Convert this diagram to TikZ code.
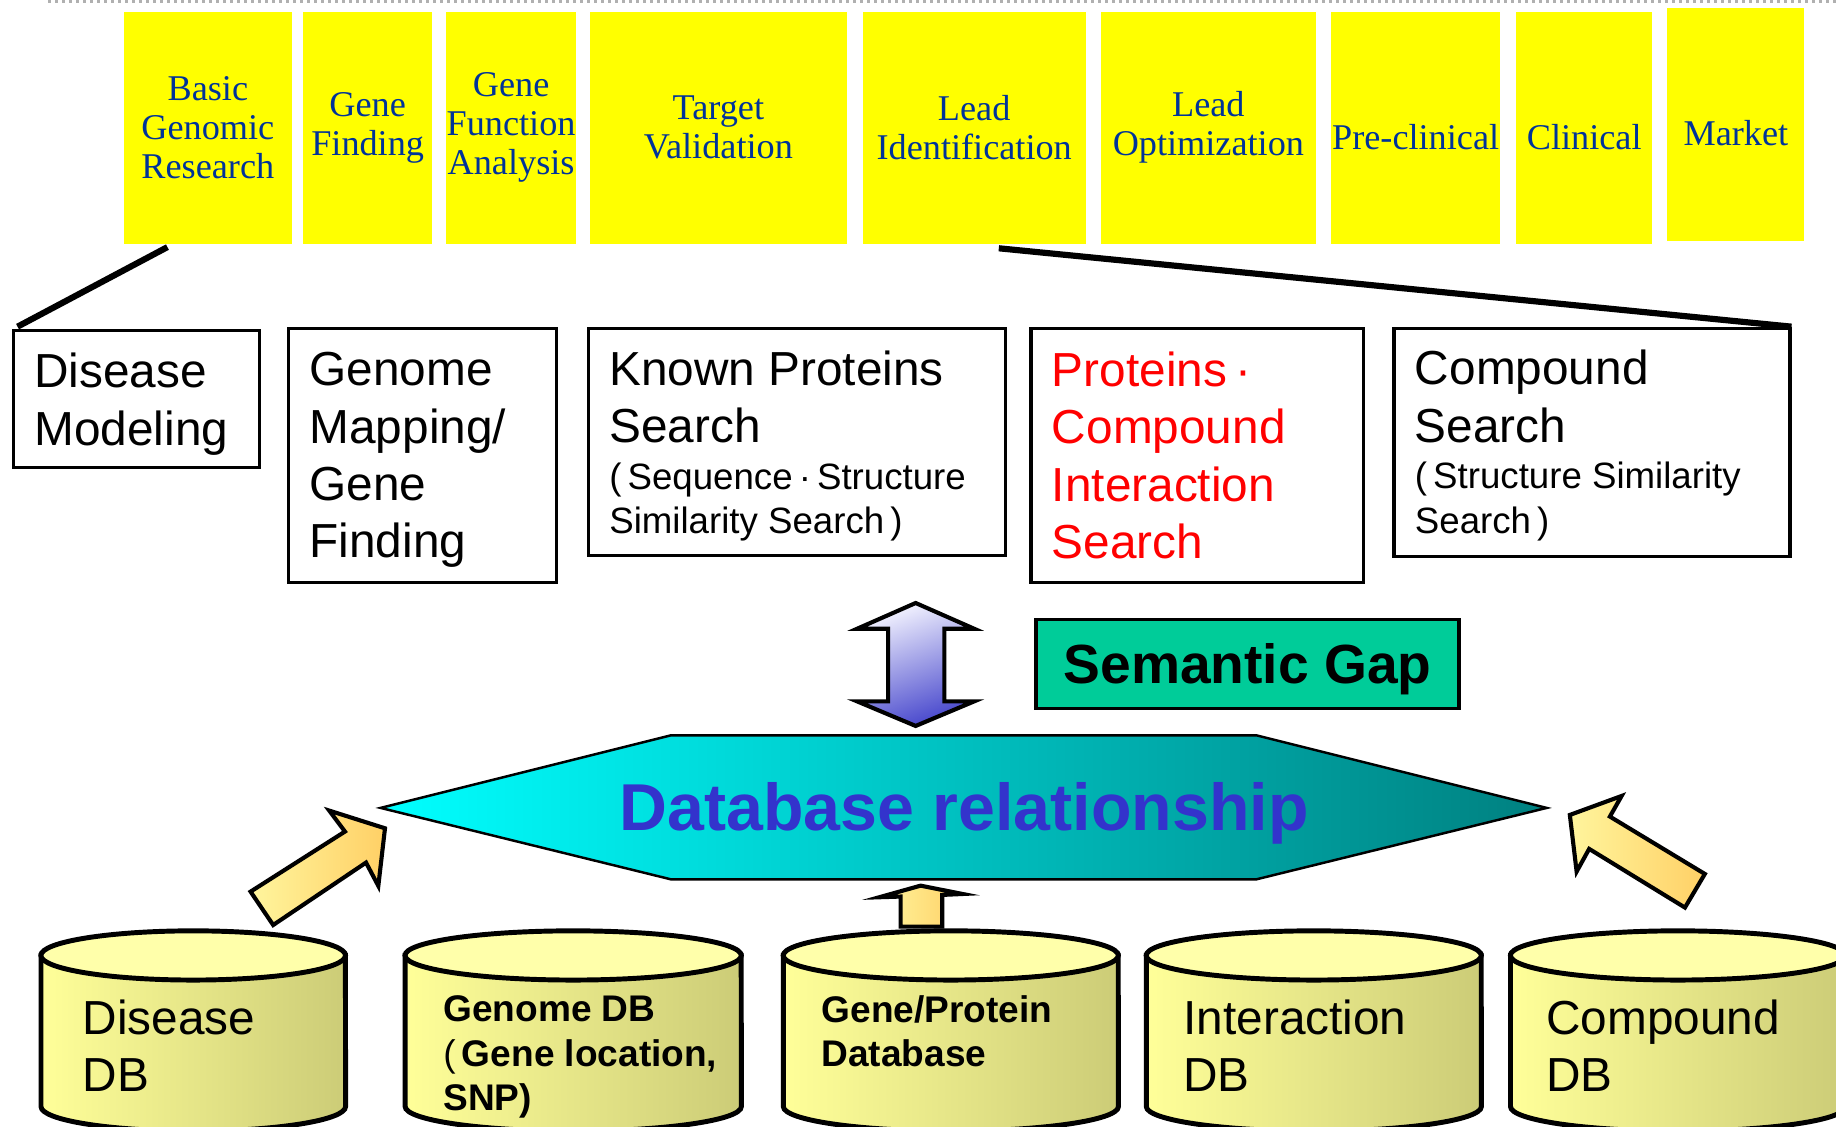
\documentclass[tikz,border=0pt]{standalone}
\usepackage{fontspec}
\setmainfont{Liberation Sans}
\newfontfamily\phasefont{Liberation Serif}
\usetikzlibrary{positioning, calc}
\definecolor{PhaseYellow}{HTML}{FFFF00}
\definecolor{PhaseBlue}{HTML}{003399}
\definecolor{GapGreen}{HTML}{00CC99}
\definecolor{RelBlue}{HTML}{3333CC}
\definecolor{HexCyan}{HTML}{00FFFF}
\definecolor{HexMid}{HTML}{00DEDE}
\definecolor{HexTeal}{HTML}{008080}
\definecolor{DbLight}{HTML}{FFFF99}
\definecolor{DbDark}{HTML}{CCCC77}
\definecolor{DbTop}{HTML}{FFFFAA}
\definecolor{ArrLight}{HTML}{FFF59D}
\definecolor{ArrDark}{HTML}{FFD066}
\definecolor{GapLilac}{HTML}{F4F4FF}
\definecolor{GapViolet}{HTML}{4646CC}
\definecolor{RuleGray}{HTML}{B0B0B0}

\newcommand\bigtxt{\fontsize{11.6}{13.9}\selectfont}
\newcommand\smalltxt{\fontsize{8.9}{10.8}\selectfont}
\newcommand\dbbold{\fontsize{9}{10.7}\selectfont\bfseries}

\begin{document}
\begin{tikzpicture}[
  x=0.01cm, y=-0.01cm,
  phase/.style={rectangle, fill=PhaseYellow, minimum height=1.98cm, inner sep=0pt, outer sep=0pt,
    align=center, text=PhaseBlue, font=\phasefont\fontsize{8.8}{9.4}\selectfont},
  oneline/.style={text height=0.37cm, text depth=0pt},
  task/.style={rectangle, draw, line width=0.8pt, anchor=north west, align=flush left,
    inner xsep=0.18cm, inner ysep=0pt, font=\bigtxt},
  zoomline/.style={line width=1.5pt, black},
  blockarrow/.style={draw, line width=1pt, line join=miter, left color=ArrLight, right color=ArrDark},
  gaparrow/.style={draw, line width=1pt, top color=GapLilac, bottom color=GapViolet, shading angle=20},
  hexa/.style={draw, line width=0.6pt, left color=HexCyan, middle color=HexMid, right color=HexTeal},
  dbbody/.style={draw, line width=1.2pt, left color=DbLight, right color=DbDark},
  dbtop/.style={draw, line width=1.2pt, fill=DbTop},
  dbtext/.style={anchor=north west, inner sep=0pt, align=left, font=\bigtxt},
  gapbox/.style={rectangle, draw, line width=0.9pt, fill=GapGreen, minimum width=3.61cm,
    minimum height=0.76cm, text depth=0pt, font=\fontsize{13.4}{16}\selectfont\bfseries}
]
  \useasboundingbox (0,0) rectangle (1568,962);
  \draw[RuleGray, line width=0.7pt, densely dotted] (41,1) -- (1568,1);

  % drug discovery phases
  \node[phase, minimum width=1.43cm] (basic) at (177.5,109) {Basic\\Genomic\\Research};
  \node[phase, minimum width=1.10cm] (genefind) at (314,109) {Gene\\Finding};
  \node[phase, minimum width=1.11cm] (genefunc) at (436.5,109) {Gene\\Function\\Analysis};
  \node[phase, minimum width=2.19cm] (target) at (613.5,109) {Target\\Validation};
  \node[phase, minimum width=1.90cm] (leadid) at (832,109) {Lead\\Identification};
  \node[phase, minimum width=1.84cm] (leadopt) at (1032,109) {Lead\\Optimization};
  \node[phase, oneline, minimum width=1.44cm] (preclin) at (1209,109) {Pre-clinical};
  \node[phase, oneline, minimum width=1.16cm] (clinical) at (1353,109) {Clinical};
  \node[phase, oneline, minimum width=1.17cm, minimum height=1.99cm] (market) at (1482.5,106) {Market};

  % search tasks
  \node[task, minimum height=1.17cm, text width=1.74cm, text depth=0.49cm] (dismod) at (10,281) {Disease\\Modeling};
  \node[task, minimum height=2.17cm, text width=1.93cm, text depth=1.47cm] (genmap) at (245,279) {Genome\\Mapping/\\Gene\\Finding};
  \node[task, minimum height=1.94cm, text width=3.20cm, text depth=1.26cm] (protsearch) at (501,279)
    {Known Proteins\\Search\\[0.02cm]\smalltxt(\,Sequence\,·\,Structure\\[-0.11cm]Similarity Search\,)};
  \node[task, minimum height=2.17cm, text width=2.48cm, text depth=1.47cm, text=red] (interact) at (879,279)
    {Proteins\,·\\Compound\\Interaction\\Search};
  \node[task, minimum height=1.95cm, text width=3.02cm, text depth=1.28cm] (cmpsearch) at (1189,279)
    {Compound\\Search\\[0.02cm]\smalltxt(\,Structure Similarity\\[-0.11cm]Search\,)};

  \draw[zoomline] ([xshift=0.37cm, yshift=-0.03cm]basic.south west) -- ([xshift=0.05cm, yshift=0.02cm]dismod.north west);
  \draw[zoomline] ([xshift=1.16cm, yshift=-0.04cm]leadid.south west) -- (cmpsearch.north east);

  \node[gapbox] (gap) at (1065.5,567) {Semantic Gap};
  \draw[gaparrow] (782,515) -- (832,537) -- (806.5,537) -- (806.5,599) -- (832,599) -- (782,620)
    -- (732,599) -- (758.5,599) -- (758.5,537) -- (732,537) -- cycle;

  \draw[hexa] (325,690) -- (573,628) -- (1073,628) -- (1321,690) -- (1073,751) -- (573,751) -- cycle;
  \node[text depth=0pt, text=RelBlue, font=\fontsize{16.1}{19}\selectfont\bfseries] (dbrel) at (823.5,689) {Database relationship};

  \draw[blockarrow] (214,761.5) -- (294.6,710.2) -- (281.2,692.3) -- (328.8,707.4) -- (323.1,756.6)
    -- (312.6,736.7) -- (233.3,790) -- cycle;
  \draw[blockarrow] (1340.7,696) -- (1384.9,679.8) -- (1374.9,697.4) -- (1456,746.4) -- (1439,775.1)
    -- (1357.2,725) -- (1346.5,744.4) -- cycle;
  \draw[blockarrow] (786.2,756.4) -- (822.1,763.5) -- (804.7,764.3) -- (804.7,791.4) -- (769.2,791.4)
    -- (769.2,765.7) -- (750.9,766.3) -- cycle;

  % databases
  \foreach \nm/\lx/\dbw in {dis/35/260, gen/346/287, gp/669/286, int/979/286, cmp/1290/286} {
    \pgfmathsetmacro{\rx}{\dbw/200}
    \pgfmathsetmacro{\rgt}{\lx+\dbw}
    \pgfmathsetmacro{\cx}{\lx+\dbw/2}
    \draw[dbbody] (\lx,816) -- (\lx,945) arc[start angle=180, end angle=360, x radius=\rx cm, y radius=0.21cm]
      -- (\rgt,816) -- cycle;
    \draw[dbtop] (\cx,816) ellipse [x radius=\rx cm, y radius=0.21cm];
  }
  \node[dbtext] (disdb) at (70,853) {Disease\\DB};
  \node[dbtext, font=\dbbold] (gendb) at (378,850) {Genome DB\\{\mdseries(}\,Gene location,\\SNP)};
  \node[dbtext, font=\dbbold] (gpdb) at (701,850) {Gene/Protein\\Database};
  \node[dbtext] (intdb) at (1010,853) {Interaction\\DB};
  \node[dbtext] (cmpdb) at (1320,853) {Compound\\DB};
\end{tikzpicture}
\end{document}
